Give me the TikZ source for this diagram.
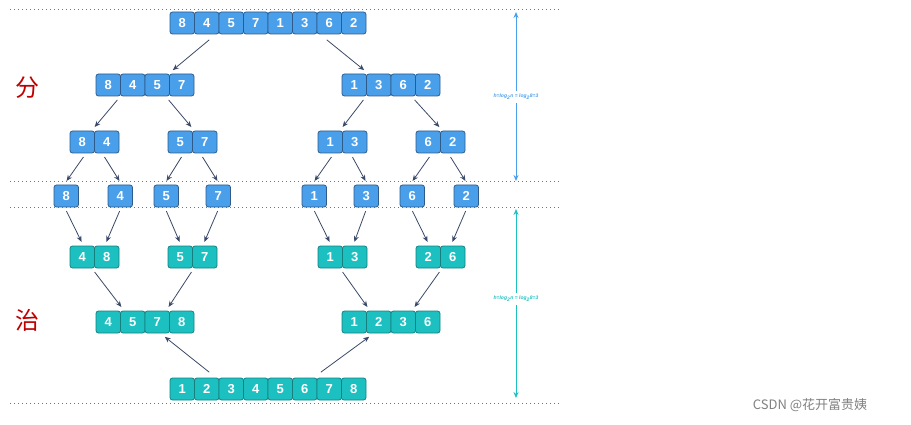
\documentclass[tikz,border=0pt]{standalone}
\usepackage{fontspec}
\setmainfont{Liberation Sans}
\newfontfamily\cjk{Noto Sans CJK SC}
\usetikzlibrary{arrows.meta}
\definecolor{bfill}{HTML}{4A9FEA}
\definecolor{bdraw}{HTML}{2D5B8C}
\definecolor{tfill}{HTML}{1CC0C0}
\definecolor{tdraw}{HTML}{16807F}
\definecolor{arr}{HTML}{3A4A68}
\definecolor{dred}{HTML}{D9474F}
\tikzset{
 cellB/.style={draw=bdraw,fill=bfill,rounded corners=2.5pt,line width=0.8pt,minimum width=24.5pt,minimum height=22pt,inner sep=0pt,text=white,font=\bfseries\fontsize{13}{13}\selectfont},
 cellT/.style={cellB,draw=tdraw,fill=tfill},
 ar/.style={draw=arr,line width=0.8pt,-{Stealth[length=6pt,width=5pt]},shorten >=1pt,shorten <=1pt},
 dl/.style={draw=dred,line width=1pt,dash pattern=on 1pt off 3pt},
 x=1pt,y=-1pt
}
\newcommand\grp[5]{% name, xleft, ycenter, style, list
 \foreach \v [count=\i] in {#5}{\node[#4] at ({#2+(\i-0.5)*24.5},#3) {\v};}
 \pgfmathsetmacro\n{0}\foreach \v in {#5}{\global\let\dummy\relax}
 \node[draw=none,inner sep=0pt,minimum height=22pt,minimum width=1pt] (#1) at ({#2},#3) {};
}
\begin{document}
\begin{tikzpicture}
\useasboundingbox (0,0) rectangle (911,425);
% dotted lines
\draw[dl] (10,10) -- (562,10);
\draw[dl] (10,182) -- (562,182);
\draw[dl] (10,208) -- (562,208);
\draw[dl] (10,403) -- (562,403);
% rows
\grp{a}{170}{23}{cellB}{8,4,5,7,1,3,6,2}
\grp{b1}{96}{85}{cellB}{8,4,5,7}
\grp{b2}{342}{85}{cellB}{1,3,6,2}
\grp{c1}{70}{142}{cellB}{8,4}
\grp{c2}{168}{142}{cellB}{5,7}
\grp{c3}{318}{142}{cellB}{1,3}
\grp{c4}{416}{142}{cellB}{6,2}
\grp{d1}{54}{196}{cellB}{8}
\grp{d2}{108}{196}{cellB}{4}
\grp{d3}{154}{196}{cellB}{5}
\grp{d4}{206}{196}{cellB}{7}
\grp{d5}{302}{196}{cellB}{1}
\grp{d6}{354}{196}{cellB}{3}
\grp{d7}{400}{196}{cellB}{6}
\grp{d8}{454}{196}{cellB}{2}
\grp{e1}{70}{257}{cellT}{4,8}
\grp{e2}{168}{257}{cellT}{5,7}
\grp{e3}{318}{257}{cellT}{1,3}
\grp{e4}{416}{257}{cellT}{2,6}
\grp{f1}{96}{322}{cellT}{4,5,7,8}
\grp{f2}{342}{322}{cellT}{1,2,3,6}
\grp{g}{170}{389}{cellT}{1,2,3,4,5,6,7,8}
% divide arrows
\draw[ar] ([xshift=40pt,yshift=-5pt]a.south) -- ([xshift=76pt,yshift=3pt]b1.north);
\draw[ar] ([xshift=156pt,yshift=-5pt]a.south) -- ([xshift=23pt,yshift=3pt]b2.north);
\foreach \p/\c/\s/\e in {b1/c1/22/24, b1/c2/72/24, b2/c3/22/24, b2/c4/72/24}{
 \draw[ar] ([xshift=\s pt,yshift=-3pt]\p.south) -- ([xshift=\e pt,yshift=3pt]\c.north);}
\foreach \p/\c/\s in {c1/d1/14, c1/d2/34, c2/d3/14, c2/d4/34, c3/d5/14, c3/d6/34, c4/d7/14, c4/d8/34}{
 \draw[ar] ([xshift=\s pt,yshift=-3pt]\p.south) -- ([xshift=12pt,yshift=3pt]\c.north);}
% merge arrows
\foreach \p/\c/\e in {d1/e1/12, d2/e1/36, d3/e2/12, d4/e2/36, d5/e3/12, d6/e3/36, d7/e4/12, d8/e4/36}{
 \draw[ar] ([xshift=12pt,yshift=-3pt]\p.south) -- ([xshift=\e pt,yshift=3pt]\c.north);}
\foreach \p/\c/\e in {e1/f1/26, e2/f1/72, e3/f2/26, e4/f2/72}{
 \draw[ar] ([xshift=24pt,yshift=-3pt]\p.south) -- ([xshift=\e pt,yshift=3pt]\c.north);}
\draw[ar] ([xshift=40pt,yshift=5pt]g.north) -- ([xshift=68pt,yshift=-3pt]f1.south);
\draw[ar] ([xshift=150pt,yshift=5pt]g.north) -- ([xshift=28pt,yshift=-3pt]f2.south);
% height arrows
\node[text=bfill,font=\itshape\bfseries\fontsize{5}{5}\selectfont] (h1) at (516,97) {h=log\textsubscript{2}n = log\textsubscript{2}8=3};
\draw[bfill,line width=1pt,-{Stealth[length=6pt,width=5pt]}] (h1.north) -- (516,12);
\draw[bfill,line width=1pt,-{Stealth[length=6pt,width=5pt]}] (h1.south) -- (516,181);
\node[text=tfill,font=\itshape\bfseries\fontsize{5}{5}\selectfont] (h2) at (516,299) {h=log\textsubscript{2}n = log\textsubscript{2}8=3};
\draw[tfill,line width=1pt,-{Stealth[length=6pt,width=5pt]}] (h2.north) -- (516,209);
\draw[tfill,line width=1pt,-{Stealth[length=6pt,width=5pt]}] (h2.south) -- (516,398);
% labels
\node[text=red!75!black,font=\cjk\fontsize{24}{24}\selectfont] (fen) at (28,88) {分};
\node[text=red!75!black,font=\cjk\fontsize{24}{24}\selectfont] (zhi) at (28,320) {治};
\node[text=gray,font=\cjk\fontsize{13}{13}\selectfont] (wm) at (810,405) {CSDN @花开富贵姨};
\end{tikzpicture}
\end{document}
